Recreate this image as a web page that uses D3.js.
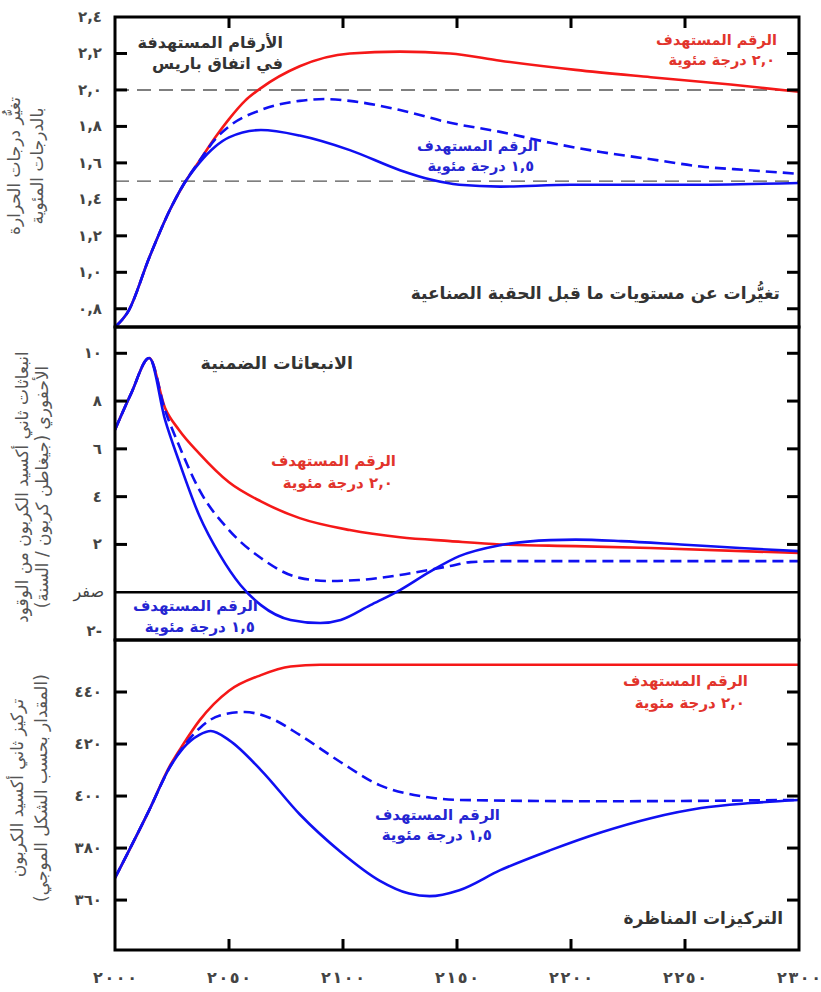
<!DOCTYPE html>
<html>
<head>
<meta charset="utf-8">
<script src="https://cdn.jsdelivr.net/npm/d3@7"></script>
<style>
  html, body { margin: 0; padding: 0; background: #fff; }
  svg { display: block; }
  text { font-family: "DejaVu Sans", sans-serif; }
</style>
</head>
<body>
<svg id="chart" width="821" height="992"></svg>
<script>
// ---------- DATA ----------
const xTicks = [2000, 2050, 2100, 2150, 2200, 2250, 2300];

// Panel 1: temperature change (°C)
const tempTicks = [0.8, 1.0, 1.2, 1.4, 1.6, 1.8, 2.0, 2.2, 2.4];
const tempRed = [[2000,0.70],[2006,0.79],[2015,1.08],[2024,1.34],[2030,1.48],[2037,1.61],[2044,1.74],[2050,1.84],[2057,1.94],[2064,2.01],[2081,2.13],[2103,2.20],[2125,2.21],[2147,2.20],[2169,2.16],[2202,2.11],[2235,2.07],[2270,2.03],[2300,1.99]];
const tempBlue = [[2000,0.70],[2006,0.79],[2015,1.08],[2024,1.34],[2030,1.48],[2037,1.60],[2044,1.69],[2050,1.74],[2064,1.78],[2081,1.75],[2103,1.67],[2125,1.56],[2138,1.51],[2151,1.48],[2169,1.47],[2200,1.48],[2250,1.48],[2300,1.49]];
const tempBlueDash = [[2000,0.70],[2006,0.79],[2015,1.08],[2024,1.34],[2030,1.48],[2037,1.61],[2044,1.73],[2050,1.80],[2064,1.89],[2081,1.94],[2092,1.95],[2103,1.94],[2125,1.89],[2147,1.82],[2169,1.77],[2191,1.71],[2213,1.66],[2235,1.62],[2257,1.58],[2278,1.56],[2300,1.54]];
const tempRefLines = [2.0, 1.5];

// Panel 2: emissions (GtC / yr)
const emisTicks = [-2, 0, 2, 4, 6, 8, 10];
const emisRed = [[2000,6.8],[2007,8.3],[2015,9.8],[2022,7.7],[2028,6.8],[2037,5.8],[2050,4.6],[2064,3.8],[2081,3.1],[2103,2.6],[2125,2.3],[2147,2.14],[2169,2.0],[2202,1.93],[2235,1.85],[2300,1.64]];
const emisBlue = [[2000,6.8],[2007,8.3],[2015,9.8],[2022,7.2],[2028,5.5],[2037,3.2],[2046,1.56],[2055,0.3],[2064,-0.54],[2077,-1.16],[2090,-1.29],[2099,-1.16],[2112,-0.54],[2125,0.09],[2138,0.85],[2151,1.51],[2169,1.97],[2191,2.18],[2202,2.2],[2222,2.14],[2248,2.0],[2274,1.85],[2300,1.72]];
const emisBlueDash = [[2000,6.8],[2007,8.3],[2015,9.8],[2022,7.6],[2028,6.16],[2037,4.28],[2050,2.6],[2064,1.43],[2081,0.6],[2094,0.47],[2107,0.51],[2125,0.72],[2147,1.1],[2156,1.26],[2169,1.3],[2213,1.3],[2257,1.3],[2300,1.3]];

// Panel 3: CO2 concentration (ppm)
const concTicks = [360, 380, 400, 420, 440];
const concRed = [[2000,368.5],[2015,394.6],[2024,411.5],[2030,420],[2037,429],[2050,440.5],[2064,446.5],[2077,449.8],[2090,450.5],[2150,450.5],[2300,450.5]];
const concBlue = [[2000,368.5],[2015,394.6],[2024,411],[2030,418.5],[2037,423.5],[2042,425],[2050,421.5],[2064,410],[2081,393],[2099,378.5],[2116,367.5],[2129,362.5],[2138,361.5],[2151,363.8],[2169,371.5],[2191,379.2],[2213,386],[2235,391.5],[2257,395.4],[2279,397.3],[2300,398.5]];
const concBlueDash = [[2000,368.5],[2015,394.6],[2024,411],[2030,419],[2037,426],[2046,431],[2057,432.3],[2068,430],[2081,423.5],[2099,413],[2116,404.2],[2134,400],[2151,398.5],[2213,398],[2300,398.5]];

// ---------- HELPERS ----------
const arDigits = "٠١٢٣٤٥٦٧٨٩";
const toAr = s => String(s).replace(/[0-9]/g, d => arDigits[+d]);
const fmtDec = v => toAr(v.toFixed(1).replace(".", ","));

const RED = "#f51818", BLUE = "#1010f2", RED_T = "#e2342c", BLUE_T = "#2525d2";
const GRAY_T = "#444", TITLE_T = "#555";

const L = 115, R = 799;
const svg = d3.select("#chart");

const x = d3.scaleLinear().domain([2000, 2300]).range([L, R]);

const panels = [
  { y0: 17,  y1: 327, domain: [0.7, 2.4],   ticks: tempTicks, fmt: fmtDec,
    series: [[tempRed, RED, false], [tempBlueDash, BLUE, true], [tempBlue, BLUE, false]] },
  { y0: 327, y1: 640, domain: [-2, 11.1],   ticks: emisTicks,
    fmt: v => v === 0 ? "صفر" : (v < 0 ? toAr(-v) + "-" : toAr(v)),
    series: [[emisRed, RED, false], [emisBlueDash, BLUE, true], [emisBlue, BLUE, false]] },
  { y0: 640, y1: 950, domain: [340.8, 460], ticks: concTicks, fmt: v => toAr(v),
    series: [[concRed, RED, false], [concBlueDash, BLUE, true], [concBlue, BLUE, false]] }
];

panels.forEach(p => { p.y = d3.scaleLinear().domain(p.domain).range([p.y1, p.y0]); });

const defs = svg.append("defs");
panels.forEach((p, i) => {
  defs.append("clipPath").attr("id", "clip" + i).append("rect")
    .attr("x", L).attr("y", p.y0).attr("width", R - L).attr("height", p.y1 - p.y0);
});

// reference dashed lines in panel 1
const p0 = panels[0];
svg.append("g").selectAll("line").data(tempRefLines).join("line")
  .attr("x1", L).attr("x2", R)
  .attr("y1", d => p0.y(d)).attr("y2", d => p0.y(d))
  .attr("stroke", "#555").attr("stroke-width", 1.4).attr("stroke-dasharray", "14,8");

// zero line in panel 2
const p1 = panels[1];
svg.append("line").attr("x1", L).attr("x2", R)
  .attr("y1", p1.y(0)).attr("y2", p1.y(0))
  .attr("stroke", "#000").attr("stroke-width", 2.5);

// series
panels.forEach((p, i) => {
  const line = d3.line().x(d => x(d[0])).y(d => p.y(d[1])).curve(d3.curveMonotoneX);
  const g = svg.append("g").attr("clip-path", `url(#clip${i})`);
  p.series.forEach(([data, color, dashed]) => {
    g.append("path").datum(data)
      .attr("d", line)
      .attr("fill", "none")
      .attr("stroke", color)
      .attr("stroke-width", 2.6)
      .attr("stroke-dasharray", dashed ? "11,6" : null);
  });
});

// y ticks (inward, both sides) + labels
panels.forEach((p, i) => {
  const g = svg.append("g");
  const inner = p.ticks.filter(t => {
    const yy = p.y(t);
    return yy > p.y0 + 3 && yy < p.y1 - 3 && !(i === 1 && t === 0);
  });
  g.selectAll("line.l").data(inner).join("line")
    .attr("x1", L).attr("x2", L + 12)
    .attr("y1", d => p.y(d)).attr("y2", d => p.y(d))
    .attr("stroke", "#000").attr("stroke-width", 3);
  g.selectAll("line.r").data(inner).join("line")
    .attr("x1", R - 12).attr("x2", R)
    .attr("y1", d => p.y(d)).attr("y2", d => p.y(d))
    .attr("stroke", "#000").attr("stroke-width", 3);
  g.selectAll("text").data(p.ticks).join("text")
    .attr("x", d => (i === 1 && d === 0) ? 104 : 102)
    .attr("y", d => p.y(d) + (i === 1 && d === -2 ? -4 : 5))
    .attr("text-anchor", "end")
    .attr("font-size", d => (i === 1 && d === 0) ? 16 : 15)
    .attr("font-weight", d => (i === 1 && d === 0) ? "normal" : "bold")
    .attr("fill", GRAY_T)
    .text(d => p.fmt(d));
});

// x ticks top and bottom
const xg = svg.append("g");
const innerX = xTicks.filter(t => t > 2000 && t < 2300);
xg.selectAll("line.t").data(innerX).join("line")
  .attr("x1", d => x(d)).attr("x2", d => x(d))
  .attr("y1", 17).attr("y2", 28).attr("stroke", "#000").attr("stroke-width", 3);
xg.selectAll("line.b").data(innerX).join("line")
  .attr("x1", d => x(d)).attr("x2", d => x(d))
  .attr("y1", 950).attr("y2", 939).attr("stroke", "#000").attr("stroke-width", 3);
xg.selectAll("text").data(xTicks).join("text")
  .attr("x", d => x(d) - 22).attr("y", 983)
  .attr("text-anchor", "start")
  .attr("textLength", 44).attr("lengthAdjust", "spacing")
  .attr("font-size", 16).attr("font-weight", "bold").attr("fill", GRAY_T)
  .text(d => toAr(d));

// frames
panels.forEach(p => {
  svg.append("rect").attr("x", L).attr("y", p.y0)
    .attr("width", R - L).attr("height", p.y1 - p.y0)
    .attr("fill", "none").attr("stroke", "#000").attr("stroke-width", 3);
});

// y-axis titles (rotated)
const titles = [
  { cy: 166, xs: [14, 37], lines: ["تغيُّر درجات الحرارة", "بالدرجات المئوية"] },
  { cy: 487, xs: [22, 42], lines: ["انبعاثات ثاني أكسيد الكربون من الوقود", "الأحفوري (جيغاطن كربون / السنة)"] },
  { cy: 788, xs: [17, 41], lines: ["تركيز ثاني أكسيد الكربون", "(المقدار بحسب الشكل الموجي)"] }
];
titles.forEach(t => {
  t.lines.forEach((ln, k) => {
    svg.append("text")
      .attr("transform", `translate(${t.xs[k] + 6},${t.cy}) rotate(-90)`)
      .attr("text-anchor", "middle")
      .attr("font-size", 17).attr("fill", TITLE_T)
      .text(ln);
  });
});

// annotations: [text, x(right edge), baseline y, color, size]
const notes = [
  ["الأرقام المستهدفة", 283, 48, "#333", 16],
  ["في اتفاق باريس", 283, 69, "#333", 16],
  ["الرقم المستهدف", 777, 45, RED_T, 14.5],
  ["٢,٠ درجة مئوية", 775, 65, RED_T, 14.5],
  ["الرقم المستهدف", 538, 151, BLUE_T, 14.5],
  ["١,٥ درجة مئوية", 534, 171, BLUE_T, 14.5],
  ["تغيُّرات عن مستويات ما قبل الحقبة الصناعية", 780, 299, "#333", 17],
  ["الانبعاثات الضمنية", 353, 369, "#333", 17.5],
  ["الرقم المستهدف", 396, 466, RED_T, 15],
  ["٢,٠ درجة مئوية", 393, 488, RED_T, 15],
  ["الرقم المستهدف", 258, 611, BLUE_T, 15],
  ["١,٥ درجة مئوية", 255, 632, BLUE_T, 15],
  ["الرقم المستهدف", 748, 686, RED_T, 15],
  ["٢,٠ درجة مئوية", 745, 708, RED_T, 15],
  ["الرقم المستهدف", 500, 820, BLUE_T, 15],
  ["١,٥ درجة مئوية", 492, 840, BLUE_T, 15],
  ["التركيزات المناظرة", 783, 924, "#333", 17]
];
svg.append("g").selectAll("text").data(notes).join("text")
  .attr("x", d => d[1]).attr("y", d => d[2])
  .attr("text-anchor", "end")
  .attr("font-weight", "bold")
  .attr("font-size", d => d[4])
  .attr("fill", d => d[3])
  .text(d => d[0]);
</script>
</body>
</html>
